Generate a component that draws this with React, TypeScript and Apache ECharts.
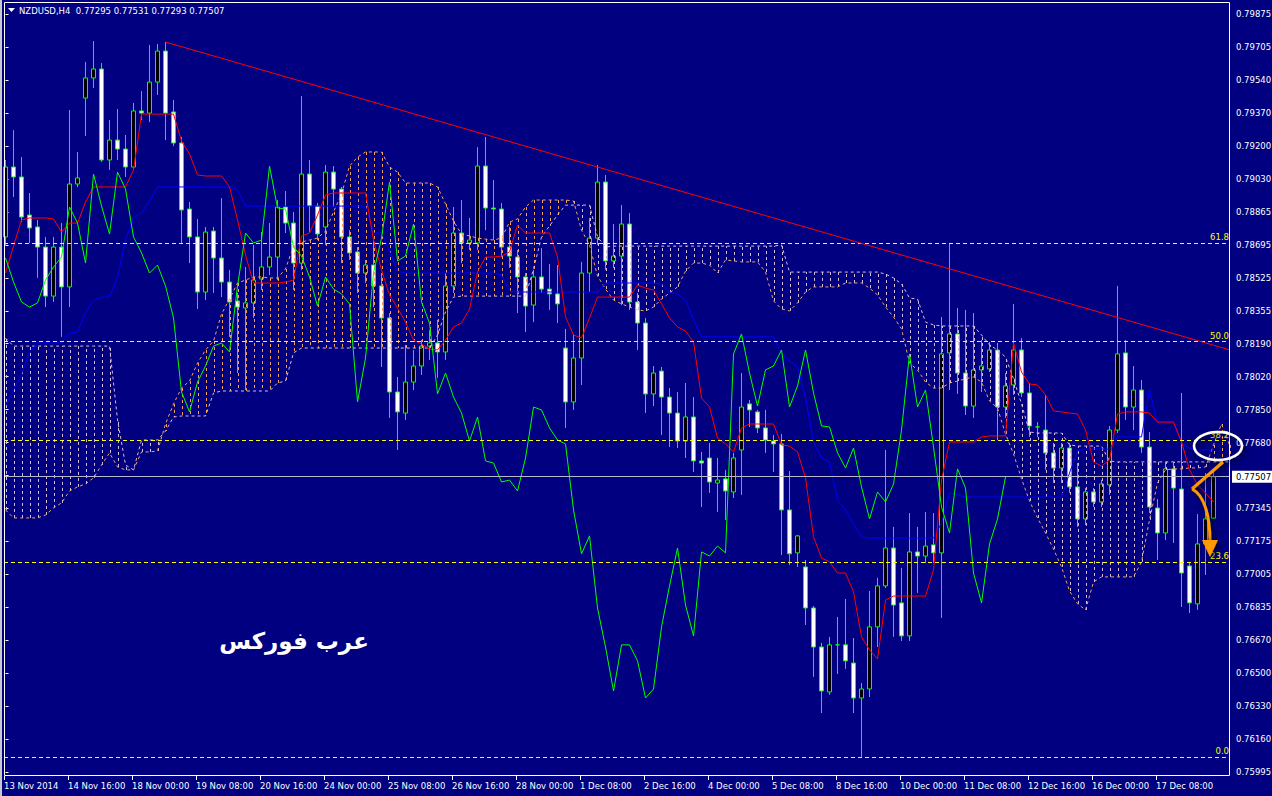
import React, { useEffect, useRef } from 'react';
import * as echarts from 'echarts';

const symbolName = 'NZDUSD,H4';
const arabicTitle = 'عرب فوركس';

const opens = [
0.78735,0.79093,0.79042,0.78847,0.78786,0.78683,0.78432,0.78683,0.78479,0.79006,
0.79446,0.79549,0.79595,0.79129,0.79231,0.79185,0.79093,0.79380,0.79369,0.79528,
0.79687,0.79375,0.79216,0.78878,0.78735,0.78453,0.78765,0.78627,0.78504,0.78407,
0.78371,0.78397,0.78520,0.78581,0.78632,0.78888,0.78806,0.78601,0.79057,0.78893,
0.78786,0.79067,0.78980,0.78735,0.78658,0.78550,0.78591,0.78484,0.78320,0.77941,
0.77833,0.77992,0.78074,0.78176,0.78192,0.78146,0.78484,0.78755,0.78704,0.78704,
0.79098,0.78883,0.78878,0.78683,0.78632,0.78530,0.78386,0.78530,0.78468,0.78443,
0.78166,0.77890,0.78115,0.78550,0.78729,0.79016,0.78612,0.78637,0.78801,0.78402,
0.78294,0.77931,0.78048,0.77915,0.77833,0.77690,0.77813,0.77588,0.77603,0.77475,
0.77496,0.77429,0.77644,0.77880,0.77839,0.77757,0.77690,0.77675,0.77337,0.77117,
0.77045,0.76835,0.76635,0.76405,0.76646,0.76646,0.76553,0.76374,0.76420,0.76738,
0.76948,0.77142,0.76861,0.76692,0.77122,0.77101,0.77158,0.77117,0.78141,0.78238,
0.78038,0.77869,0.78054,0.78059,0.78156,0.77864,0.77977,0.78156,0.77936,0.77762,
0.77746,0.77629,0.77552,0.77654,0.77455,0.77291,0.77429,0.77378,0.77465,0.77746,
0.78141,0.77864,0.77951,0.77659,0.77347,0.77219,0.77547,0.77444,0.77050,0.76856,
0.77163,0.77295];

const closes = [
0.79093,0.79042,0.78837,0.78781,0.78683,0.78432,0.78683,0.78479,0.79006,0.79037,
0.79549,0.79595,0.79129,0.79231,0.79185,0.79093,0.79380,0.79369,0.79528,0.79687,
0.79369,0.79216,0.78873,0.78735,0.78453,0.78760,0.78627,0.78504,0.78402,0.78376,
0.78397,0.78514,0.78581,0.78632,0.78888,0.78806,0.78601,0.79057,0.78893,0.78750,
0.79067,0.78980,0.78735,0.78653,0.78550,0.78591,0.78484,0.78320,0.77941,0.77839,
0.77992,0.78074,0.78176,0.78192,0.78146,0.78484,0.78755,0.78704,0.78719,0.79098,
0.78883,0.78878,0.78683,0.78637,0.78530,0.78381,0.78530,0.78468,0.78443,0.78392,
0.77890,0.78115,0.78550,0.78729,0.79016,0.78612,0.78637,0.78801,0.78402,0.78294,
0.77931,0.78038,0.77915,0.77833,0.77690,0.77813,0.77588,0.77577,0.77480,0.77490,
0.77434,0.77603,0.77864,0.77849,0.77757,0.77695,0.77675,0.77337,0.77112,0.77204,
0.76835,0.76635,0.76410,0.76646,0.76646,0.76564,0.76374,0.76420,0.76738,0.76948,
0.77142,0.76850,0.76692,0.77122,0.77101,0.77152,0.77117,0.78136,0.78238,0.78038,
0.77869,0.78054,0.78074,0.78156,0.77864,0.77972,0.78156,0.77936,0.77767,0.77762,
0.77629,0.77552,0.77654,0.77455,0.77291,0.77429,0.77378,0.77470,0.77746,0.78136,
0.77864,0.77951,0.77659,0.77352,0.77219,0.77547,0.77449,0.77014,0.76861,0.77163,
0.77291,0.77507];

const lows = [
0.78694,0.78939,0.78811,0.78704,0.78525,0.78376,0.78402,0.78223,0.78376,0.78991,
0.79252,0.79497,0.79119,0.79078,0.79129,0.79042,0.79078,0.79334,0.79323,0.79462,
0.79231,0.79200,0.78704,0.78601,0.78366,0.78412,0.78448,0.78427,0.78223,0.78038,
0.77951,0.78320,0.78463,0.78540,0.78514,0.78755,0.78463,0.78566,0.78755,0.78719,
0.78694,0.78888,0.78601,0.78617,0.78448,0.78499,0.78376,0.78069,0.77808,0.77644,
0.77798,0.77951,0.78028,0.78105,0.78013,0.78105,0.78448,0.78601,0.78668,0.78668,
0.78770,0.78719,0.78632,0.78576,0.78345,0.78248,0.78299,0.78448,0.78361,0.78294,
0.77757,0.77849,0.77977,0.78453,0.78694,0.78566,0.78576,0.78386,0.78361,0.78156,
0.77833,0.77869,0.77721,0.77659,0.77654,0.77603,0.77531,0.77352,0.77424,0.77327,
0.77286,0.77398,0.77414,0.77762,0.77731,0.77629,0.77531,0.77106,0.77055,0.77045,
0.76748,0.76482,0.76297,0.76390,0.76497,0.76523,0.76297,0.76072,0.76379,0.76635,
0.76937,0.76687,0.76666,0.76666,0.76912,0.77065,0.77065,0.76784,0.77951,0.77931,
0.77823,0.77808,0.77941,0.78043,0.77695,0.77808,0.77926,0.77915,0.77711,0.77711,
0.77542,0.77475,0.77475,0.77424,0.77250,0.77260,0.77352,0.77352,0.77414,0.77731,
0.77798,0.77746,0.77629,0.77321,0.77081,0.77183,0.77168,0.76840,0.76809,0.76825,
0.77004,0.77293];

const highs = [
0.79129,0.79282,0.79144,0.78960,0.78822,0.78735,0.78735,0.78806,0.79385,0.79170,
0.79631,0.79738,0.79625,0.79334,0.79390,0.79257,0.79421,0.79482,0.79718,0.79723,
0.79733,0.79436,0.79247,0.78914,0.78827,0.78786,0.78786,0.78934,0.78566,0.78448,
0.78581,0.78694,0.78760,0.78806,0.78924,0.78970,0.78863,0.79456,0.79129,0.78909,
0.79103,0.79098,0.78991,0.78770,0.78683,0.78617,0.78719,0.78550,0.78345,0.78018,
0.78182,0.78156,0.78207,0.78258,0.78310,0.78550,0.78888,0.78924,0.78832,0.79195,
0.79247,0.79026,0.78909,0.78786,0.78668,0.78550,0.78566,0.78678,0.78596,0.78591,
0.78264,0.78238,0.78607,0.78832,0.79103,0.79052,0.78801,0.78898,0.78857,0.78448,
0.78320,0.78074,0.78069,0.77961,0.77941,0.77987,0.77915,0.77634,0.77680,0.77603,
0.77542,0.77629,0.78038,0.77900,0.77849,0.77849,0.77721,0.77726,0.77536,0.77209,
0.77081,0.76845,0.76656,0.76687,0.76789,0.76881,0.76681,0.76451,0.76922,0.76989,
0.77644,0.77250,0.77040,0.77321,0.77250,0.77327,0.77321,0.78325,0.78704,0.78371,
0.78361,0.78345,0.78207,0.78197,0.78192,0.78038,0.78392,0.78217,0.77987,0.77787,
0.77926,0.77680,0.77680,0.77680,0.77577,0.77449,0.77449,0.77490,0.77767,0.78484,
0.78207,0.78074,0.78002,0.77736,0.77393,0.77583,0.77583,0.77936,0.77071,0.77316,
0.77526,0.77531];

const tenkan = [
0.78550,0.78688,0.78822,0.78832,0.78832,0.78832,0.78827,0.78760,0.78806,0.78806,
0.78914,0.78991,0.78991,0.78991,0.78991,0.78991,0.79078,0.79364,0.79364,0.79364,
0.79364,0.79364,0.79226,0.79160,0.79052,0.79047,0.79047,0.79047,0.78991,0.78822,
0.78642,0.78499,0.78499,0.78499,0.78499,0.78504,0.78514,0.78740,0.78755,0.78847,
0.78950,0.78960,0.78960,0.78960,0.78960,0.78960,0.78719,0.78566,0.78438,0.78371,
0.78299,0.78207,0.78187,0.78161,0.78156,0.78207,0.78274,0.78294,0.78366,0.78555,
0.78632,0.78632,0.78637,0.78658,0.78796,0.78755,0.78755,0.78755,0.78755,0.78632,
0.78325,0.78233,0.78217,0.78320,0.78427,0.78427,0.78427,0.78427,0.78427,0.78489,
0.78473,0.78463,0.78392,0.78320,0.78274,0.78253,0.78197,0.77910,0.77864,0.77705,
0.77675,0.77634,0.77757,0.77777,0.77777,0.77777,0.77777,0.77670,0.77664,0.77634,
0.77501,0.77199,0.77091,0.77071,0.77014,0.77014,0.76917,0.76687,0.76620,0.76574,
0.76876,0.76896,0.76896,0.76896,0.76896,0.76896,0.77030,0.77490,0.77685,0.77685,
0.77685,0.77685,0.77711,0.77716,0.77716,0.77716,0.78192,0.78043,0.77982,0.77977,
0.77926,0.77844,0.77839,0.77833,0.77828,0.77746,0.77583,0.77562,0.77593,0.77828,
0.77839,0.77839,0.77839,0.77833,0.77787,0.77787,0.77787,0.77685,0.77542,0.77465,
0.77424,0.77378];

const kijun = [
0.77869,0.77951,0.78033,0.78146,0.78192,0.78192,0.78192,0.78192,0.78243,0.78248,
0.78345,0.78412,0.78427,0.78427,0.78530,0.78719,0.78832,0.78857,0.78919,0.78991,
0.78991,0.78991,0.78991,0.78991,0.78991,0.78991,0.78991,0.78991,0.78991,0.78975,
0.78893,0.78893,0.78893,0.78893,0.78893,0.78893,0.78893,0.78893,0.78893,0.78893,
0.78893,0.78893,0.78893,0.78893,0.78893,0.78893,0.78755,0.78755,0.78663,0.78560,
0.78550,0.78550,0.78550,0.78550,0.78550,0.78550,0.78550,0.78550,0.78550,0.78550,
0.78550,0.78550,0.78540,0.78458,0.78453,0.78453,0.78453,0.78453,0.78453,0.78453,
0.78453,0.78453,0.78453,0.78453,0.78453,0.78499,0.78499,0.78499,0.78499,0.78499,
0.78499,0.78499,0.78494,0.78453,0.78443,0.78412,0.78310,0.78223,0.78223,0.78223,
0.78223,0.78223,0.78223,0.78223,0.78223,0.78223,0.78223,0.78136,0.78100,0.78069,
0.77910,0.77685,0.77603,0.77583,0.77388,0.77337,0.77265,0.77199,0.77193,0.77193,
0.77193,0.77193,0.77193,0.77193,0.77193,0.77193,0.77193,0.77270,0.77424,0.77414,
0.77403,0.77403,0.77403,0.77403,0.77403,0.77403,0.77403,0.77403,0.77403,0.77403,
0.77403,0.77403,0.77403,0.77526,0.77639,0.77649,0.77649,0.77649,0.77649,0.77711,
0.77711,0.77711,0.77711,0.77951,0.77782,0.77782,0.77782,0.77680,0.77654,0.77644,
0.77644,0.77644];

const senkouA = [
0.77337,0.77296,0.77296,0.77296,0.77296,0.77311,0.77347,0.77373,0.77434,0.77455,
0.77470,0.77501,0.77567,0.77629,0.77557,0.77542,0.77542,0.77634,0.77634,0.77639,
0.77777,0.77880,0.77961,0.77997,0.78089,0.78156,0.78202,0.78340,0.78417,0.78499,
0.78514,0.78530,0.78530,0.78525,0.78525,0.78571,0.78688,0.78709,0.78719,0.78729,
0.78765,0.78863,0.78955,0.79098,0.79144,0.79170,0.79170,0.79170,0.79093,0.79067,
0.79011,0.79011,0.79011,0.79011,0.78991,0.78904,0.78816,0.78750,0.78740,0.78729,
0.78724,0.78719,0.78729,0.78811,0.78827,0.78888,0.78924,0.78924,0.78924,0.78924,
0.78924,0.78919,0.78770,0.78694,0.78535,0.78468,0.78412,0.78392,0.78376,0.78361,
0.78356,0.78376,0.78417,0.78448,0.78479,0.78560,0.78601,0.78601,0.78591,0.78550,
0.78617,0.78612,0.78607,0.78607,0.78607,0.78555,0.78407,0.78366,0.78356,0.78397,
0.78453,0.78479,0.78479,0.78479,0.78479,0.78499,0.78499,0.78499,0.78473,0.78438,
0.78376,0.78325,0.78264,0.78089,0.78054,0.77992,0.77961,0.77961,0.77987,0.77997,
0.78008,0.78018,0.77992,0.77895,0.77859,0.77726,0.77624,0.77496,0.77383,0.77296,
0.77219,0.77137,0.77045,0.76922,0.76856,0.76825,0.76968,0.76994,0.76994,0.76994,
0.76994,0.76994,0.77071,0.77286,0.77475,0.77542,0.77547,0.77547,0.77552,0.77552,
0.77557,0.77670,0.77777,0.77670];

const senkouB = [
0.78217,0.78176,0.78176,0.78176,0.78176,0.78176,0.78176,0.78176,0.78176,0.78176,
0.78176,0.78176,0.78176,0.78176,0.77798,0.77567,0.77542,0.77695,0.77695,0.77695,
0.77741,0.77813,0.77818,0.77818,0.77818,0.77818,0.77936,0.77946,0.77946,0.77946,
0.77946,0.77946,0.77946,0.77946,0.77987,0.77997,0.78141,0.78166,0.78166,0.78166,
0.78166,0.78166,0.78166,0.78166,0.78166,0.78166,0.78166,0.78166,0.78166,0.78166,
0.78166,0.78166,0.78166,0.78166,0.78233,0.78351,0.78427,0.78432,0.78432,0.78432,
0.78432,0.78432,0.78432,0.78432,0.78432,0.78432,0.78571,0.78735,0.78791,0.78847,
0.78898,0.78898,0.78898,0.78898,0.78735,0.78683,0.78688,0.78688,0.78688,0.78688,
0.78688,0.78688,0.78688,0.78688,0.78688,0.78688,0.78688,0.78688,0.78688,0.78688,
0.78688,0.78688,0.78688,0.78688,0.78688,0.78688,0.78688,0.78694,0.78555,0.78555,
0.78555,0.78555,0.78555,0.78555,0.78555,0.78555,0.78555,0.78555,0.78555,0.78555,
0.78545,0.78525,0.78494,0.78422,0.78417,0.78299,0.78284,0.78279,0.78279,0.78279,
0.78279,0.78279,0.78233,0.78182,0.78156,0.78120,0.78008,0.77880,0.77736,0.77731,
0.77731,0.77731,0.77731,0.77670,0.77664,0.77664,0.77664,0.77664,0.77588,0.77583,
0.77583,0.77583,0.77583,0.77583,0.77583,0.77583,0.77583,0.77583,0.77583,0.77583,
0.77583,0.77583,0.77583,0.77583];

const xLabels = ['13 Nov 2014','14 Nov 16:00','18 Nov 00:00','19 Nov 08:00','20 Nov 16:00','24 Nov 00:00','25 Nov 08:00','26 Nov 16:00','28 Nov 00:00','1 Dec 08:00','2 Dec 16:00','4 Dec 00:00','5 Dec 08:00','8 Dec 16:00','10 Dec 00:00','11 Dec 08:00','12 Dec 16:00','16 Dec 00:00','17 Dec 08:00'];
const yLabels = ['0.75995','0.76160','0.76330','0.76500','0.76670','0.76835','0.77005','0.77175','0.77345','','0.77680','0.77850','0.78020','0.78190','0.78355','0.78525','0.78695','0.78865','0.79030','0.79200','0.79370','0.79540','0.79705','0.79875'];

const fibNames = ['0.0','23.6','38.2','50.0','61.8'];
const fibPrices = [0.76072,0.77071,0.77695,0.78202,0.78704];
const trendStart = [20, 0.79733];
const trendEnd = [153.06, 0.78156];
const bidPrice = 0.77507;

const Y_MIN = 0.75995, Y_MAX = 0.79938, Y_STEP = 0.001687;
const X_MIN = -0.19, X_MAX = 153.06, X_LABEL_MAX = 143.81, X_STEP = 8;
const FONT = 'DejaVu Sans';
const SANDY = '#F4A460', THISTLE = '#D8BFD8';

export default function App() {
  const ref = useRef<HTMLDivElement>(null);
  useEffect(() => {
    if (!ref.current) return;
    document.body.style.margin = '0';
    const chart = echarts.init(ref.current, undefined, { renderer: 'svg' });
    const candleData = opens.map((o, i) => [i, o, closes[i], lows[i], highs[i]]);
    const chikou = closes.slice(26);
    const last = opens.length - 1;
    const titleText = `${symbolName}  ${opens[last].toFixed(5)} ${highs[last].toFixed(5)} ${lows[last].toFixed(5)} ${closes[last].toFixed(5)}`;
    const lineSeries = (data: number[], color: string, z: number, dash?: number[]) => ({
      type: 'line',
      xAxisIndex: 0, yAxisIndex: 0,
      data: data.map((v, i) => [i, v]),
      symbol: 'none', showSymbol: false, silent: true, z,
      lineStyle: { color, width: 1, type: dash ? dash : 'solid' },
      emphasis: { disabled: true },
    });
    const option: any = {
      animation: false,
      backgroundColor: '#000080',
      grid: [
        { left: 4, top: 2, width: 1226, height: 770, containLabel: false, outerBoundsMode: 'none' },
        { left: 4, top: 2, width: 1152, height: 774, containLabel: false, outerBoundsMode: 'none' },
      ],
      xAxis: [
        { type: 'value', gridIndex: 0, min: X_MIN, max: X_MAX, show: false },
        {
          type: 'value', gridIndex: 1, min: X_MIN, max: X_LABEL_MAX, interval: X_STEP,
          axisLine: { show: false }, splitLine: { show: false },
          axisTick: { show: true, length: 4, lineStyle: { color: '#FFFFFF', width: 1 } },
          axisLabel: {
            show: true, color: '#FFFFFF', fontSize: 8.5, fontFamily: FONT, align: 'left', margin: 5,
            showMinLabel: true, showMaxLabel: true,
            formatter: (v: number) => { const k = (v - X_MIN) / X_STEP; const r = Math.round(k); return Math.abs(k - r) < 0.05 ? (xLabels[r] ?? '') : ''; },
          },
        },
      ],
      yAxis: [
        {
          type: 'value', gridIndex: 0, position: 'right', min: Y_MIN, max: Y_MAX, interval: Y_STEP,
          axisLine: { show: false }, splitLine: { show: false },
          axisTick: { show: true, length: 3, lineStyle: { color: '#FFFFFF', width: 1 } },
          axisLabel: {
            show: true, color: '#FFFFFF', fontSize: 8.5, fontFamily: FONT, margin: 6,
            showMinLabel: true, showMaxLabel: true,
            formatter: (v: number) => { const k = (v - Y_MIN) / Y_STEP; const r = Math.round(k); return Math.abs(k - r) < 0.05 ? (yLabels[r] ?? '') : ''; },
          },
        },
        { type: 'value', gridIndex: 1, min: 0, max: 1, show: false },
      ],
      series: [
        {
          type: 'candlestick', xAxisIndex: 0, yAxisIndex: 0, data: candleData, barWidth: 5, z: 2, silent: true,
          itemStyle: { color: '#000000', color0: '#FFFFFF', borderColor: '#00FF00', borderColor0: '#00FF00', borderColorDoji: '#00FF00', borderWidth: 1 },
          emphasis: { disabled: true },
          markLine: {
            symbol: 'none', silent: true, animation: false, precision: 5,
            data: [{
              yAxis: bidPrice,
              lineStyle: { color: '#B8B8C8', width: 1, type: 'solid' },
              label: { show: true, position: 'end', distance: 2, formatter: (p: any) => Number(p.value).toFixed(5), backgroundColor: '#FFFFFF', color: '#000000', fontSize: 8.5, fontFamily: FONT, padding: [2, 4, 1, 4] },
            }],
          },
        },
        {
          type: 'custom', xAxisIndex: 0, yAxisIndex: 0, z: 3, silent: true,
          data: senkouA.map((a, i) => [i, a, senkouB[i]]),
          encode: { x: 0, y: [1, 2] },
          renderItem: (params: any, api: any) => {
            const i = api.value(0), a = api.value(1), b = api.value(2);
            const p1 = api.coord([i, a]); const p2 = api.coord([i, b]);
            const x = Math.round(p1[0]) + 0.5;
            return { type: 'line', shape: { x1: x, y1: p1[1], x2: x, y2: p2[1] }, style: { stroke: a >= b ? SANDY : THISTLE, lineWidth: 1, lineDash: [3, 3] } };
          },
        },
        lineSeries(senkouA, SANDY, 3, [3, 3]),
        lineSeries(senkouB, THISTLE, 3, [3, 3]),
        lineSeries(kijun, '#0000FF', 4),
        lineSeries(tenkan, '#FF0000', 4),
        lineSeries(chikou, '#00FF00', 4),
        {
          type: 'line', xAxisIndex: 0, yAxisIndex: 0, data: [trendStart, trendEnd], symbol: 'none', silent: true, z: 5,
          lineStyle: { color: '#FF0000', width: 1 },
          markLine: {
            symbol: 'none', silent: true, animation: false, precision: 5,
            data: fibPrices.map((p, i) => ({
              yAxis: p, name: fibNames[i],
              lineStyle: { color: '#FFFF00', width: 1, type: [4, 3] },
              label: { show: true, position: 'insideEndTop', formatter: '{b}', color: '#FFFF00', fontSize: 8.5, fontFamily: FONT, distance: 1 },
            })),
          },
        },
      ],
      graphic: [
        { type: 'rect', z: 100, shape: { x: 0, y: 0, width: 2, height: 796 }, style: { fill: '#C8C8C8' } },
        { type: 'rect', z: 100, shape: { x: 4.5, y: 2.5, width: 1225, height: 773 }, style: { fill: 'none', stroke: '#FFFFFF', lineWidth: 1 } },
        { type: 'polygon', z: 100, shape: { points: [[8, 8], [15, 8], [11.5, 12]] }, style: { fill: '#FFFFFF' } },
        { type: 'text', z: 100, x: 19, y: 11, style: { text: titleText, fill: '#FFFFFF', fontSize: 8.5, fontFamily: FONT, verticalAlign: 'middle', textVerticalAlign: 'middle' } },
        { type: 'text', z: 100, x: 294, y: 641, style: { text: arabicTitle, fill: '#FFFFFF', fontSize: 23, fontWeight: 'bold', fontFamily: FONT, align: 'center', verticalAlign: 'middle', textAlign: 'center', textVerticalAlign: 'middle' } },
        { type: 'ellipse', z: 101, shape: { cx: 1218, cy: 446, rx: 24, ry: 14 }, style: { fill: 'none', stroke: '#FFFFFF', lineWidth: 2.5, shadowBlur: 6, shadowColor: 'rgba(0,0,0,0.8)', shadowOffsetX: 2, shadowOffsetY: 2 } },
        { type: 'polyline', z: 101, shape: { points: [[1223, 462], [1192, 489]] }, style: { stroke: '#FF9900', lineWidth: 3, fill: 'none', shadowBlur: 6, shadowColor: 'rgba(0,0,0,0.8)', shadowOffsetX: 2, shadowOffsetY: 2 } },
        { type: 'bezierCurve', z: 101, shape: { x1: 1192, y1: 489, cpx1: 1204, cpy1: 495, cpx2: 1210, cpy2: 515, x2: 1210, y2: 542 }, style: { stroke: '#FF9900', lineWidth: 3, fill: 'none', shadowBlur: 6, shadowColor: 'rgba(0,0,0,0.8)', shadowOffsetX: 2, shadowOffsetY: 2 } },
        { type: 'polygon', z: 101, shape: { points: [[1202, 540], [1218, 540], [1210, 557]] }, style: { fill: '#FF9900', shadowBlur: 6, shadowColor: 'rgba(0,0,0,0.8)', shadowOffsetX: 2, shadowOffsetY: 2 } },
      ],
    };
    chart.setOption(option);
    return () => chart.dispose();
  }, []);
  return <div ref={ref} style={{ position: 'fixed', left: 0, top: 0, width: 1272, height: 796, background: '#000080' }} />;
}
